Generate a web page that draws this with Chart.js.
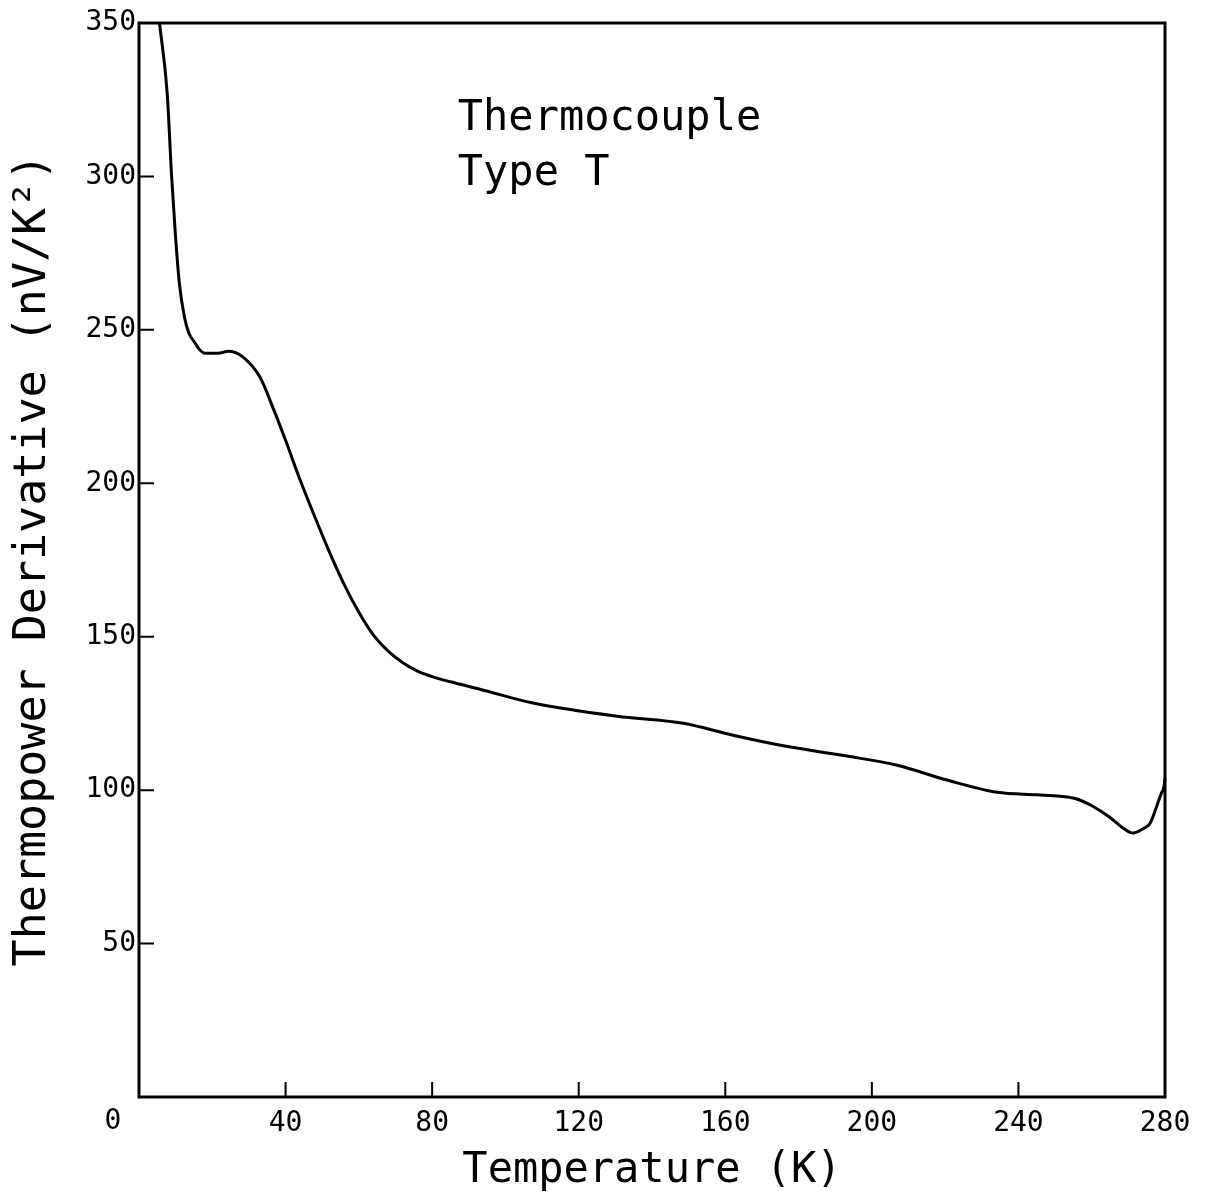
<!DOCTYPE html>
<html>
<head>
<meta charset="utf-8">
<script src="https://cdn.jsdelivr.net/npm/chart.js@4.4.0/dist/chart.umd.min.js"></script>
<style>
  body { margin: 0; background: #fff; }
  #wrap { width: 1205px; height: 1196px; }
</style>
</head>
<body>
<div id="wrap"><canvas id="tcChart"></canvas></div>
<script>
// Type T thermocouple
const temperature = [5.6, 7.7, 8.9, 9.9, 11.0, 12.4, 13.6, 15.3, 16.5, 18.0, 21.5, 24.5, 28.4, 33.0,
    36.6, 40.0, 44.0, 48.0, 52.0, 56.0, 60.0, 64.0, 68.0, 72.0, 76.0, 80.0, 85.0, 93.0, 107.5,
    130.5, 148.5, 162.1, 177.0, 193.2, 206.9, 220.5, 234.2, 245.0, 251.4, 255.9, 260.5, 265.0,
    268.7, 271.3, 274.1, 275.9, 277.7, 279.0, 280.0, 280.4];
const derivative = [350, 327, 300, 281.6, 265.3, 254.2, 249, 245.7, 243.6, 242.4, 242.4, 243, 241.1, 234.6,
    224.5, 214, 201, 189, 177.5, 167, 158, 150.5, 145.3, 141.5, 138.8, 137, 135.3, 132.9, 128.4,
    124.1, 121.8, 117.9, 114.2, 111.1, 108.1, 103.3, 99.3, 98.5, 98, 97.1, 94.6, 91.1,
    87.5, 86, 87.5, 89.1, 94.6, 99, 104, 118];
const xTicks = [40, 80, 120, 160, 200, 240, 280];
const yTicks = [50, 100, 150, 200, 250, 300, 350];
const noteLines = ['Thermocouple', 'Type T'];

const mono = '"DejaVu Sans Mono", "Liberation Mono", monospace';

// frame, inward tick marks, origin label and the note
const framePlugin = {
    id: 'frame',
    afterDraw(chart) {
        const { ctx, chartArea: a, scales: { x, y } } = chart;
        ctx.save();
        ctx.strokeStyle = '#000';
        ctx.lineWidth = 3;
        ctx.strokeRect(a.left, a.top, a.right - a.left, a.bottom - a.top);

        ctx.lineWidth = 2;
        ctx.beginPath();
        x.ticks.forEach(t => {
            const px = x.getPixelForValue(t.value);
            ctx.moveTo(px, a.bottom);
            ctx.lineTo(px, a.bottom - 15);
        });
        y.ticks.forEach(t => {
            const py = y.getPixelForValue(t.value);
            ctx.moveTo(a.left, py);
            ctx.lineTo(a.left + 15, py);
        });
        ctx.stroke();

        ctx.fillStyle = '#000';
        ctx.font = '28px ' + mono;
        ctx.textAlign = 'center';
        ctx.textBaseline = 'middle';
        ctx.fillText('0', x.getPixelForValue(0) - 26, a.bottom + 25);

        ctx.font = '42px ' + mono;
        ctx.textAlign = 'left';
        ctx.textBaseline = 'alphabetic';
        const nx = x.getPixelForValue(87);
        const ny = y.getPixelForValue(315);
        ctx.fillText(noteLines[0], nx, ny);
        ctx.fillText(noteLines[1], nx, ny + 55);
        ctx.restore();
    }
};

new Chart(document.getElementById('tcChart'), {
    type: 'line',
    data: {
        datasets: [{
            data: temperature.map((t, i) => ({ x: t, y: derivative[i] })),
            borderColor: '#000',
            borderWidth: 3,
            pointRadius: 0,
            cubicInterpolationMode: 'monotone',
            clip: 4,
            fill: false
        }]
    },
    options: {
        responsive: true,
        maintainAspectRatio: false,
        animation: false,
        layout: { padding: { top: 23, right: 40 } },
        plugins: {
            legend: { display: false },
            tooltip: { enabled: false }
        },
        scales: {
            x: {
                type: 'linear',
                min: 0,
                max: 280,
                afterBuildTicks: s => { s.ticks = xTicks.map(v => ({ value: v })); },
                afterFit: s => { s.height = 99; },
                grid: { display: false, drawTicks: false },
                border: { display: false },
                ticks: {
                    padding: 10,
                    color: '#000',
                    font: { family: mono, size: 28 }
                },
                title: {
                    display: true,
                    text: 'Temperature (K)',
                    color: '#000',
                    font: { family: mono, size: 42 },
                    padding: 0
                }
            },
            y: {
                type: 'linear',
                min: 0,
                max: 350,
                afterBuildTicks: s => { s.ticks = yTicks.map(v => ({ value: v })); },
                afterFit: s => { s.width = 139; },
                grid: { display: false, drawTicks: false },
                border: { display: false },
                ticks: {
                    padding: 3,
                    color: '#000',
                    font: { family: mono, size: 28 }
                },
                title: {
                    display: true,
                    text: 'Thermopower Derivative (nV/K²)',
                    color: '#000',
                    font: { family: mono, size: 45 },
                    padding: { top: 6, bottom: 0 }
                }
            }
        }
    },
    plugins: [framePlugin]
});
</script>
</body>
</html>
